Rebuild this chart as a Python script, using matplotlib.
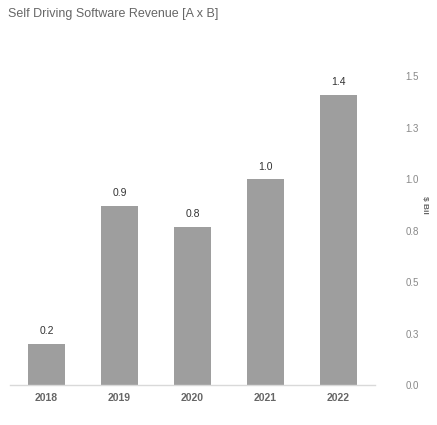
import matplotlib.pyplot as plt

plt.rcParams['font.family'] = ['Liberation Sans', 'DejaVu Sans']

# Data
years = ['2018', '2019', '2020', '2021', '2022']
revenue = [0.20, 0.87, 0.77, 1.00, 1.41]
value_labels = ['0.2', '0.9', '0.8', '1.0', '1.4']
ytick_vals = [0.0, 0.25, 0.5, 0.75, 1.0, 1.25, 1.5]
ytick_labels = ['0.0', '0.3', '0.5', '0.8', '1.0', '1.3', '1.5']

W, H = 437, 425
fig = plt.figure(figsize=(W / 100, H / 100), dpi=100)
# axes spans x 10..375 px, y 66..385 px
ax = fig.add_axes([10 / W, (H - 385) / H, 365 / W, 319 / H])

x = range(len(years))
ax.bar(x, revenue, width=0.51, color='#9e9e9e', zorder=2)
ax.set_xlim(-0.5, 4.5)
ax.set_ylim(0, 1.55)

# Value labels above bars
for xi, v, lab in zip(x, revenue, value_labels):
    ax.annotate(lab, (xi, v), xytext=(0, 5.5), textcoords='offset points',
                ha='center', va='bottom', fontsize=7.5, color='#333333')

# Axes styling
for s in ['top', 'left', 'right']:
    ax.spines[s].set_visible(False)
ax.spines['bottom'].set_color('#d9d9d9')
ax.spines['bottom'].set_linewidth(1)

ax.set_xticks(list(x))
ax.set_xticklabels(years, fontsize=7.5, color='#666666', fontweight='bold')
ax.tick_params(axis='x', length=0, pad=6)

ax.yaxis.tick_right()
ax.set_yticks(ytick_vals)
ax.set_yticklabels(ytick_labels, fontsize=7, color='#888888')
ax.tick_params(axis='y', length=0, pad=22)

fig.text(425 / W, 1 - 205 / H, '$ Bil', rotation=270, ha='center', va='center',
         fontsize=6, color='#666666', fontweight='bold')

# Title
fig.text(8 / W, 1 - 14 / H, 'Self Driving Software Revenue [A x B]',
         ha='left', va='center', fontsize=9, color='#666666')

fig.savefig('out.png', dpi=100)
